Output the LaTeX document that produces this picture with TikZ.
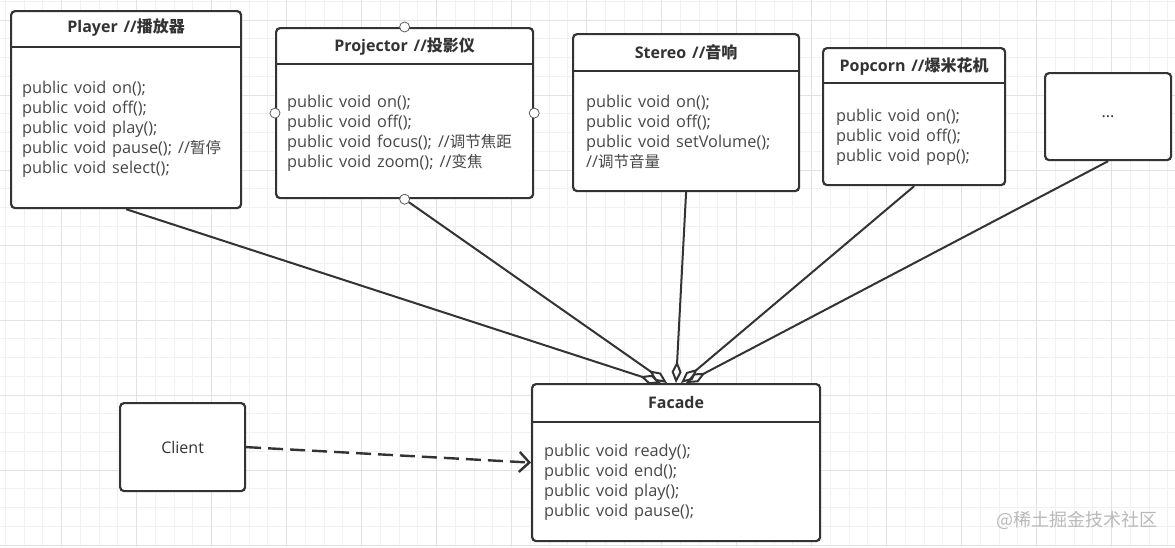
\documentclass[tikz,border=0pt]{standalone}
\usepackage{fontspec}
\setmainfont[WordSpace=1.4]{Open Sans}
\newfontfamily\cjk{Noto Sans CJK SC}
\newcommand\zh[1]{{\cjk\fontsize{15.5}{20}\selectfont #1}}
\newcommand\zhb[1]{{\cjk\bfseries\fontsize{16}{18}\selectfont #1}}
\usetikzlibrary{arrows.meta}
\definecolor{ink}{HTML}{333333}
\definecolor{gridminor}{HTML}{F1F1F1}
\definecolor{gridmajor}{HTML}{E2E2E2}

\begin{document}
\begin{tikzpicture}[x=1pt, y=-1pt,
  box/.style={draw=ink, line width=2.2pt, rounded corners=4pt, fill=white, anchor=north west, inner sep=0pt, text=ink, font=\fontsize{16}{20}\selectfont},
  title/.style={font=\fontsize{16}{18}\selectfont\bfseries, text=ink},
  body/.style={font=\fontsize{16.3}{20}\selectfont, text=ink!90, align=left, anchor=north west, inner sep=0pt},
  header/.style={draw=ink, line width=2pt},
  link/.style={draw=ink, line width=2pt, -{Diamond[open, length=22pt, width=10pt]}},
  usage/.style={draw=ink, line width=2.4pt, dash pattern=on 15pt off 7pt, -{Straight Barb[length=10pt, width=20pt, line width=2.4pt]}},
  port/.style={circle, draw=ink!80, fill=white, line width=0.8pt, minimum size=10pt, inner sep=0pt}]

  % background and grid
  \useasboundingbox (0,0) rectangle (1175,547);
  \fill[white] (0,0) rectangle (1175,547);
  \foreach \i in {0,...,62}
    \draw[gridminor, line width=1pt] (5.45+18.75*\i,0) -- ++(0,547);
  \foreach \j in {0,...,29}
    \draw[gridminor, line width=1pt] (0,1.25+18.75*\j) -- ++(1175,0);
  \foreach \i in {0,...,14}
    \draw[gridmajor, line width=1pt] (61.7+75*\i,0) -- ++(0,547);
  \foreach \j in {0,...,7}
    \draw[gridmajor, line width=1pt] (0,20+75*\j) -- ++(1175,0);

  % Player
  \node[box, minimum width=230pt, minimum height=197pt] (player) at (10,10) {};
  \draw[header] ([yshift=-37pt]player.north west) -- ([yshift=-37pt]player.north east);
  \node[title] (player-title) at ([yshift=-18pt]player.north) {Player //\zhb{播放器}};
  \node[body] (player-body) at ([xshift=12pt, yshift=-71pt]player.north west) {
    public void on();\\
    public void off();\\
    public void play();\\
    public void pause(); //\zh{暂停}\\
    public void select();
  };

  % Projector
  \node[box, minimum width=257pt, minimum height=170pt] (projector) at (275,27) {};
  \draw[header] ([yshift=-37pt]projector.north west) -- ([yshift=-37pt]projector.north east);
  \node[title] (projector-title) at ([yshift=-20pt]projector.north) {Projector //\zhb{投影仪}};
  \node[body] (projector-body) at ([xshift=12pt, yshift=-68pt]projector.north west) {
    public void on();\\
    public void off();\\
    public void focus(); //\zh{调节焦距}\\
    public void zoom(); //\zh{变焦}
  };
  \foreach \a in {north, south, east, west}
    \node[port] (port-\a) at (projector.\a) {};

  % Stereo
  \node[box, minimum width=226pt, minimum height=157pt] (stereo) at (572,33) {};
  \draw[header] ([yshift=-38pt]stereo.north west) -- ([yshift=-38pt]stereo.north east);
  \node[title] (stereo-title) at ([yshift=-19pt]stereo.north) {Stereo //\zhb{音响}};
  \node[body] (stereo-body) at ([xshift=14pt, yshift=-62pt]stereo.north west) {
    public void on();\\
    public void off();\\
    public void setVolume();\\
    //\zh{调节音量}
  };

  % Popcorn
  \node[box, minimum width=182pt, minimum height=137pt] (popcorn) at (822,47) {};
  \draw[header] ([yshift=-36pt]popcorn.north west) -- ([yshift=-36pt]popcorn.north east);
  \node[title] (popcorn-title) at ([yshift=-20pt]popcorn.north) {Popcorn //\zhb{爆米花机}};
  \node[body] (popcorn-body) at ([xshift=14pt, yshift=-62pt]popcorn.north west) {
    public void on();\\
    public void off();\\
    public void pop();
  };

  % others
  \node[box, minimum width=126pt, minimum height=87pt] (others) at (1044,72) {...};

  % Client
  \node[box, minimum width=125pt, minimum height=88pt] (client) at (119,402) {Client};

  % Facade
  \node[box, minimum width=288pt, minimum height=157pt] (facade) at (531,383) {};
  \draw[header] ([yshift=-39pt]facade.north west) -- ([yshift=-39pt]facade.north east);
  \node[title] (facade-title) at ([yshift=-19pt]facade.north) {Facade};
  \node[body] (facade-body) at ([xshift=13pt, yshift=-61pt]facade.north west) {
    public void ready();\\
    public void end();\\
    public void play();\\
    public void pause();
  };

  % aggregation links
  \coordinate (in1) at ([xshift=130pt]facade.north west);
  \coordinate (in2) at ([xshift=136pt]facade.north west);
  \coordinate (in3) at ([xshift=145pt]facade.north west);
  \coordinate (in4) at ([xshift=150pt]facade.north west);
  \coordinate (in5) at ([xshift=155pt]facade.north west);
  \draw[link] (player.south) -- (in1);
  \draw[link] (port-south) -- (in2);
  \draw[link] (stereo.south) -- (in3);
  \draw[link] (popcorn.south) -- (in4);
  \draw[link] (others.south) -- (in5);

  % dependency
  \draw[usage] (client.east) -- (facade.west);

  \node[text=gray!55, font=\cjk\fontsize{18}{18}\selectfont] (mark) at (1077,520) {@稀土掘金技术社区};
\end{tikzpicture}
\end{document}
